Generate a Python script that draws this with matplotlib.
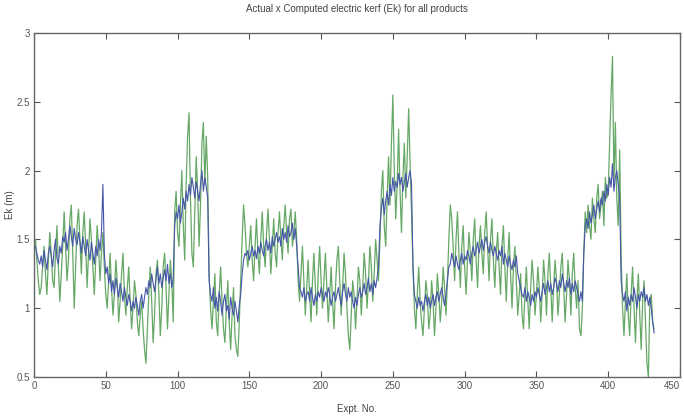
import matplotlib

matplotlib.use("Agg")
import matplotlib.pyplot as plt
import numpy as np

computed_ek = [
    1.45, 1.40, 1.35, 1.32, 1.38, 1.30, 1.42, 1.35, 1.28, 1.40,
    1.45, 1.38, 1.30, 1.42, 1.50, 1.36, 1.32, 1.45, 1.40, 1.52,
    1.48, 1.55, 1.42, 1.50, 1.60, 1.52, 1.45, 1.58, 1.50, 1.46,
    1.55, 1.48, 1.40, 1.52, 1.45, 1.38, 1.50, 1.42, 1.35, 1.48,
    1.40, 1.32, 1.45, 1.38, 1.50, 1.42, 1.55, 1.90, 1.40, 1.25,
    1.30, 1.18, 1.25, 1.12, 1.20, 1.10, 1.22, 1.15, 1.08, 1.18,
    1.12, 1.05, 1.15, 1.08, 1.02, 1.10, 1.05, 0.98, 1.05, 1.00,
    1.08, 1.02, 0.95, 1.05, 1.10, 1.00, 1.08, 1.15, 1.10, 1.20,
    1.15, 1.25, 1.18, 1.12, 1.22, 1.30, 1.18, 1.25, 1.15, 1.22,
    1.28, 1.20, 1.32, 1.18, 1.25, 1.15, 1.22, 1.60, 1.70, 1.65,
    1.75, 1.62, 1.70, 1.80, 1.72, 1.85, 1.78, 1.90, 1.82, 1.95,
    1.88, 1.80, 1.92, 1.85, 1.78, 1.90, 2.00, 1.85, 1.95, 1.88,
    1.80, 1.20, 1.10, 1.05, 1.15, 1.00, 1.08, 0.98, 1.12, 1.05,
    0.95, 1.05, 1.10, 0.98, 1.02, 0.92, 1.08, 1.00, 0.95, 1.05,
    0.98, 0.90, 1.02, 1.10, 1.25, 1.35, 1.40, 1.38, 1.42, 1.35,
    1.40, 1.45, 1.38, 1.42, 1.36, 1.45, 1.40, 1.48, 1.42, 1.38,
    1.45, 1.50, 1.42, 1.48, 1.40, 1.52, 1.45, 1.50, 1.55, 1.48,
    1.52, 1.45, 1.58, 1.50, 1.55, 1.48, 1.60, 1.52, 1.55, 1.62,
    1.50, 1.58, 1.45, 1.30, 1.15, 1.12, 1.08, 1.15, 1.05, 1.10,
    1.12, 1.05, 1.15, 1.08, 1.02, 1.10, 1.05, 1.12, 1.08, 1.15,
    1.10, 1.05, 1.12, 1.08, 1.15, 1.10, 1.02, 1.08, 1.12, 1.05,
    1.10, 1.15, 1.08, 1.02, 1.12, 1.18, 1.10, 1.05, 1.15, 1.08,
    1.12, 1.05, 1.00, 1.08, 1.02, 1.10, 1.15, 1.08, 1.12, 1.18,
    1.10, 1.15, 1.22, 1.12, 1.18, 1.10, 1.20, 1.15, 1.22, 1.30,
    1.60, 1.72, 1.80, 1.68, 1.78, 1.85, 1.75, 1.90, 1.82, 1.95,
    1.85, 1.92, 1.88, 1.98, 1.90, 1.95, 1.85, 1.92, 1.98, 1.88,
    1.95, 2.00, 1.90, 1.30, 1.10, 1.05, 1.00, 1.08, 1.02, 1.05,
    0.98, 1.05, 1.10, 1.02, 1.08, 1.00, 1.05, 1.10, 1.02, 1.08,
    1.12, 1.05, 1.10, 1.15, 1.08, 1.02, 1.10, 1.20, 1.30, 1.32,
    1.40, 1.35, 1.30, 1.38, 1.32, 1.28, 1.35, 1.40, 1.32, 1.38,
    1.35, 1.42, 1.38, 1.32, 1.40, 1.45, 1.38, 1.42, 1.48, 1.40,
    1.45, 1.50, 1.42, 1.48, 1.52, 1.45, 1.40, 1.48, 1.42, 1.38,
    1.45, 1.40, 1.35, 1.42, 1.38, 1.45, 1.32, 1.40, 1.35, 1.30,
    1.38, 1.32, 1.28, 1.35, 1.30, 1.38, 1.25, 1.20, 1.15, 1.10,
    1.08, 1.15, 1.05, 1.12, 1.08, 1.02, 1.10, 1.05, 1.12, 1.08,
    1.15, 1.10, 1.05, 1.12, 1.18, 1.10, 1.15, 1.20, 1.12, 1.18,
    1.10, 1.15, 1.22, 1.18, 1.12, 1.20, 1.15, 1.25, 1.18, 1.12,
    1.20, 1.15, 1.22, 1.10, 1.18, 1.12, 1.20, 1.15, 1.10, 1.05,
    1.12, 1.05, 1.40, 1.60, 1.65, 1.58, 1.70, 1.62, 1.68, 1.75,
    1.65, 1.72, 1.78, 1.70, 1.80, 1.75, 1.85, 1.78, 1.90, 1.82,
    1.95, 1.88, 2.05, 1.85, 1.95, 2.00, 1.90, 1.80, 1.20, 1.10,
    1.05, 1.12, 0.98, 1.08, 1.02, 1.10, 1.05, 1.15, 1.08, 1.00,
    1.10, 1.05, 1.12, 1.08, 1.15, 1.05, 1.10, 1.02, 1.08, 1.00,
    0.90, 0.82,
]

# Actual Ek (green)
actual_ek = [
    1.50, 1.35, 1.20, 1.10, 1.15, 1.30, 1.45, 1.25, 1.10, 1.35,
    1.55, 1.40, 1.20, 1.15, 1.40, 1.60, 1.30, 1.05, 1.25, 1.45,
    1.70, 1.45, 1.20, 1.35, 1.65, 1.75, 1.40, 1.00, 1.30, 1.60,
    1.72, 1.50, 1.25, 1.55, 1.70, 1.45, 1.15, 1.40, 1.65, 1.50,
    1.30, 1.10, 1.35, 1.60, 1.45, 1.20, 1.40, 1.55, 1.30, 1.10,
    1.00, 1.20, 1.40, 1.15, 0.95, 1.10, 1.35, 1.20, 0.90, 1.05,
    1.25, 1.40, 1.10, 0.95, 1.15, 1.30, 1.05, 0.85, 1.00, 1.20,
    1.10, 0.90, 0.80, 0.95, 1.05, 0.85, 0.70, 0.60, 0.85, 1.10,
    1.30, 1.05, 0.75, 0.95, 1.25, 1.35, 1.10, 0.80, 1.00, 1.30,
    1.40, 1.15, 0.85, 1.10, 1.35, 1.20, 0.90, 1.70, 1.85, 1.55,
    1.45, 1.75, 2.00, 1.60, 1.35, 1.90, 2.25, 2.42, 1.80, 1.40,
    1.30, 1.70, 2.10, 1.85, 1.45, 1.75, 2.20, 2.35, 1.90, 2.25,
    1.95, 1.25, 1.00, 0.85, 1.05, 1.25, 0.90, 0.80, 1.10, 1.30,
    1.05, 0.85, 0.75, 1.00, 1.20, 0.90, 0.70, 0.95, 1.15, 0.80,
    0.70, 0.65, 0.90, 1.20, 1.50, 1.75, 1.60, 1.40, 1.30, 1.45,
    1.60, 1.35, 1.20, 1.45, 1.65, 1.40, 1.25, 1.50, 1.70, 1.45,
    1.30, 1.55, 1.72, 1.50, 1.25, 1.45, 1.65, 1.40, 1.30, 1.55,
    1.70, 1.50, 1.35, 1.60, 1.75, 1.55, 1.40, 1.65, 1.72, 1.45,
    1.55, 1.70, 1.50, 1.20, 1.05, 1.25, 1.45, 1.20, 0.95, 1.15,
    1.35, 1.10, 0.90, 1.20, 1.40, 1.15, 0.95, 1.25, 1.45, 1.20,
    1.00, 1.20, 1.40, 1.15, 0.90, 1.10, 1.30, 1.05, 0.85, 1.15,
    1.35, 1.45, 1.20, 0.95, 1.15, 1.40, 1.25, 1.00, 0.80, 0.70,
    0.95, 1.20, 1.10, 0.85, 1.05, 1.30, 1.20, 0.95, 1.15, 1.40,
    1.25, 1.00, 1.20, 1.45, 1.30, 1.05, 1.25, 1.50, 1.35, 1.20,
    1.50, 1.85, 2.00, 1.60, 1.45, 1.80, 2.10, 1.75, 2.20, 2.55,
    2.00, 1.65, 1.90, 2.30, 1.85, 1.55, 1.95, 2.20, 1.80, 2.10,
    2.45, 2.05, 1.70, 1.30, 1.00, 0.85, 1.10, 1.30, 1.05, 0.90,
    0.80, 1.00, 1.20, 1.10, 0.85, 0.95, 1.20, 1.05, 0.80, 1.00,
    1.25, 1.10, 0.90, 1.05, 1.30, 1.15, 0.95, 1.20, 1.50, 1.75,
    1.65, 1.45, 1.20, 1.50, 1.70, 1.40, 1.15, 1.45, 1.60, 1.30,
    1.10, 1.35, 1.55, 1.40, 1.20, 1.50, 1.65, 1.35, 1.15, 1.45,
    1.60, 1.40, 1.25, 1.55, 1.70, 1.45, 1.20, 1.50, 1.65, 1.35,
    1.15, 1.40, 1.55, 1.30, 1.10, 1.45, 1.60, 1.30, 1.05, 1.35,
    1.55, 1.25, 1.00, 1.30, 1.45, 1.20, 0.95, 1.10, 1.25, 0.95,
    0.85, 1.10, 1.30, 1.05, 0.85, 1.15, 1.35, 1.20, 0.95, 1.10,
    1.30, 1.15, 0.90, 1.10, 1.35, 1.20, 0.95, 1.25, 1.40, 1.15,
    0.90, 1.15, 1.35, 1.20, 0.95, 1.10, 1.30, 1.40, 1.15, 0.90,
    1.10, 1.35, 1.20, 0.95, 1.25, 1.40, 1.15, 1.00, 1.20, 0.85,
    0.80, 1.00, 1.40, 1.70, 1.55, 1.75, 1.60, 1.50, 1.80, 1.65,
    1.55, 1.80, 1.90, 1.65, 1.75, 1.85, 1.60, 1.95, 1.80, 1.85,
    2.20, 2.55, 2.83, 1.90, 2.35, 1.80, 1.60, 2.15, 1.40, 1.00,
    0.80, 1.05, 1.25, 0.95, 0.80, 1.10, 1.30, 1.00, 0.75, 1.05,
    1.25, 0.95, 0.70, 1.05, 1.20, 0.90, 0.60, 0.50, 1.05, 1.10,
    0.90, 0.85,
]

x_ticks = [0, 50, 100, 150, 200, 250, 300, 350, 400, 450]
y_ticks = [0.5, 1, 1.5, 2, 2.5, 3]
y_tick_labels = ["0.5", "1", "1.5", "2", "2.5", "3"]

expt_no = np.arange(1, len(computed_ek) + 1)

plt.rcParams["font.family"] = ["Liberation Sans Narrow", "Liberation Sans", "DejaVu Sans"]

fig = plt.figure(figsize=(6.84, 4.19), dpi=100)
ax = fig.add_axes([0.0497, 0.1002, 0.9444, 0.821])

ax.plot(expt_no, actual_ek, color="#66a866", linewidth=0.9)
ax.plot(expt_no, computed_ek, color="#4656a8", linewidth=0.8)

ax.set_xlim(0, 450)
ax.set_ylim(0.5, 3)
ax.set_xticks(x_ticks)
ax.set_yticks(y_ticks)
ax.set_yticklabels(y_tick_labels)

# MATLAB-like box: ticks inward on all four sides
ax.tick_params(direction="in", top=True, right=True, length=4,
               labelsize=7, colors="#555555", width=0.8, pad=3)
for spine in ax.spines.values():
    spine.set_color("#666666")
    spine.set_linewidth(1.0)

# last x label sits on the figure edge, pull it in so it is not clipped
ax.get_xticklabels()[-1].set_horizontalalignment("right")

ax.set_title("Actual x Computed electric kerf (Ek) for all products",
             fontsize=7, color="#444444", pad=15)
ax.set_xlabel("Expt. No.", fontsize=7, color="#444444", labelpad=9)
ax.set_ylabel("Ek (m)", fontsize=7, color="#444444", labelpad=1)

fig.savefig("out.png", dpi=100)
